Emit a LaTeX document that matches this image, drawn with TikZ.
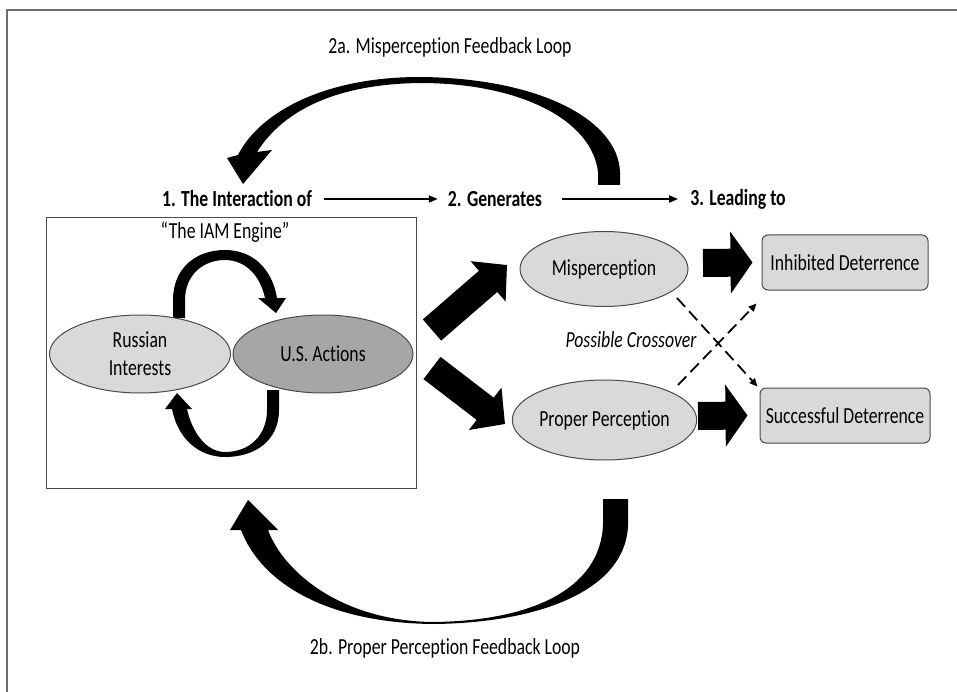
\documentclass[tikz,border=0pt]{standalone}
\usepackage{fontspec}
\setmainfont{Carlito}[FakeStretch=0.77, Ligatures={NoCommon}]
\usetikzlibrary{arrows.meta,shapes.geometric}
\definecolor{lgray}{HTML}{D9D9D9}
\definecolor{dgray}{HTML}{A6A6A6}
\definecolor{edgegray}{HTML}{4A4A4A}
\definecolor{framegray}{HTML}{6E6E6E}
\begin{document}
\begin{tikzpicture}[x=1pt,y=-1pt,
  txt/.style={font=\fontsize{23}{26}\selectfont, inner sep=0pt},
  hdr/.style={font=\fontsize{23}{26}\selectfont\bfseries, inner sep=0pt},
  oval/.style={ellipse, draw=edgegray, line width=1pt, fill=lgray, inner sep=0pt,
    font=\fontsize{23}{28}\selectfont, align=center},
  rbox/.style={rectangle, rounded corners=6pt, draw=edgegray, line width=1pt, fill=lgray,
    inner sep=0pt, font=\fontsize{23}{26}\selectfont},
  flowarrow/.style={line width=1.7pt, -{Triangle[width=7pt,length=9pt]}},
  dasharrow/.style={line width=1.8pt, dash pattern=on 12pt off 6pt, -{Triangle[width=7pt,length=8pt]}},
  blk/.style={line width=28pt, -{Triangle[width=52pt,length=25pt]}},
  blkh/.style={line width=28pt, -{Triangle[width=61pt,length=22pt]}},
  loopfill/.style={fill=black}
]
\useasboundingbox (0,0) rectangle (957,692);
\fill[white] (0,0) rectangle (957,692);
% frame lines
\draw[framegray, line width=2pt] (6.5,692) -- (6.5,10.5) -- (957,10.5);

% titles
\node[txt] (t2a) at (450,47) {2a. Misperception Feedback Loop};
\node[txt] (t2b) at (445,648) {2b. Proper Perception Feedback Loop};

% headers
\node[hdr] (h1) at (237,199) {1. The Interaction of};
\node[hdr] (h2) at (495,199) {2. Generates};
\node[hdr] (h3) at (738,199) {3. Leading to};
\draw[flowarrow] ([xshift=12pt]h1.east) -- ([xshift=-10pt]h2.west);
\draw[flowarrow] ([xshift=20pt]h2.east) -- ([xshift=-12pt]h3.west);

% big feedback loops
\fill[loopfill] (598,185) -- (620,185) -- (620,172)
  .. controls (618,120) and (540,78) .. (420,77)
  .. controls (320,77) and (258,115) .. (238,155)
  -- (227,158) -- (243,184) -- (272,150) -- (257,152)
  .. controls (285,108) and (340,84) .. (420,83)
  .. controls (520,83) and (592,120) .. (598,172) -- cycle;
\fill[loopfill] (603,499) -- (628,499) -- (628,525)
  .. controls (626,590) and (540,623) .. (433,624)
  .. controls (330,623) and (262,585) .. (241,530)
  -- (230,530) -- (248,500) -- (278,530) -- (268,530)
  .. controls (285,575) and (345,621) .. (433,622)
  .. controls (530,621) and (600,590) .. (603,525) -- cycle;

% engine box
\node[draw=edgegray, line width=1pt, minimum width=370pt, minimum height=270pt, inner sep=0pt] (engine) at (231,353) {};
\node[txt] (iam) at (225,232) {“The IAM Engine”};

% engine loops
\fill[loopfill] (173,318) -- (173,300) .. controls (173,268) and (196,250) .. (225,250)
  .. controls (252,250) and (272,268) .. (277,298) -- (286,298) -- (276,313) -- (258,298) -- (265,298)
  .. controls (260,275) and (245,260) .. (225,260)
  .. controls (203,260) and (185,275) .. (185,300) -- (185,318) -- cycle;
\fill[loopfill] (267,390) -- (279,390) -- (279,410) .. controls (279,440) and (256,457) .. (225,457)
  .. controls (200,457) and (178,440) .. (172,409) -- (165,409) -- (177,393) -- (192,409) -- (187,409)
  .. controls (192,432) and (206,452) .. (225,452)
  .. controls (250,452) and (267,435) .. (267,410) -- cycle;

\node[oval, minimum width=181pt, minimum height=78pt] (ri) at (140,354) {Russian\\Interests};
\node[oval, fill=dgray, minimum width=180pt, minimum height=78pt] (us) at (323,354) {U.S. Actions};

% perception ellipses
\node[oval, minimum width=168pt, minimum height=75pt] (mis) at (604,269) {Misperception};
\node[oval, minimum width=177pt, minimum height=80pt] (pp) at (604.5,420) {Proper Perception};

% outcome boxes
\node[rbox, minimum width=166pt, minimum height=55pt] (id) at (845,262.5) {Inhibited Deterrence};
\node[rbox, minimum width=170pt, minimum height=55pt] (sd) at (845,415.5) {Successful Deterrence};

% block arrows
\coordinate (b1s) at (432,330);
\coordinate (b1e) at (507,265);
\coordinate (b2s) at (432,368);
\coordinate (b2e) at (505,424);
\draw[blk] (b1s) -- (b1e);
\draw[blk] (b2s) -- (b2e);
\coordinate (r1s) at (703,263);
\coordinate (r2s) at (698,416);
\draw[blkh] (r1s) -- ([xshift=-9pt]id.west);
\draw[blkh] (r2s) -- ([xshift=-12pt]sd.west);

% crossover
\coordinate (d1s) at (677,298);
\coordinate (d2s) at (678,385);
\draw[dasharrow] (d1s) -- ([xshift=-2pt,yshift=1pt]sd.north west);
\draw[dasharrow] (d2s) -- ([xshift=-5pt,yshift=-13pt]id.south west);
\node[txt, font=\fontsize{23}{26}\selectfont\itshape] (pc) at (631,340) {Possible Crossover};
\end{tikzpicture}
\end{document}
